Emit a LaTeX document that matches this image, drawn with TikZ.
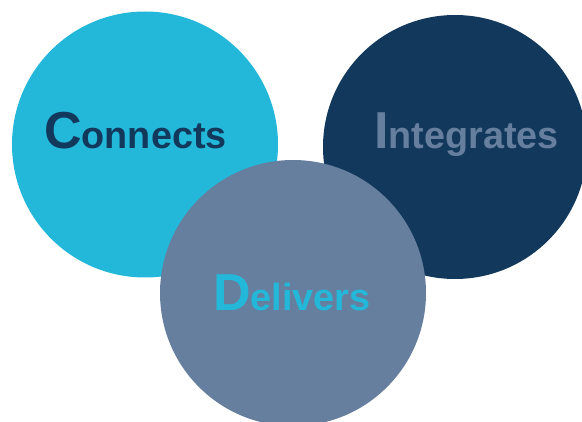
\documentclass[tikz,border=0pt]{standalone}
\usepackage{fontspec}
\setmainfont{Liberation Sans}
\definecolor{cyanc}{HTML}{23B8D9}
\definecolor{navyc}{HTML}{12395C}
\definecolor{grayc}{HTML}{667F9E}
\tikzset{
  disc/.style={circle, inner sep=0pt, minimum size=#1},
  word/.style={anchor=base west, inner sep=0pt, font=\bfseries},
}
\newcommand{\initialcap}[1]{{\fontsize{52}{52}\selectfont #1}}
\newcommand{\restword}[1]{{\fontsize{37.8}{38}\selectfont #1}}
\begin{document}
\begin{tikzpicture}[x=1pt,y=-1pt]
\useasboundingbox (0,0) rectangle (582,422);
\clip (0,0) rectangle (582,422);
\node[disc=266pt, fill=cyanc] (c) at (145,144.5) {};
\node[disc=264pt, fill=navyc] (i) at (455,147) {};
\node[disc=266pt, fill=grayc] (d) at (293,293) {};
\node[word, text=navyc] (tc) at (44,149) {\initialcap{C}\restword{onnects}};
\node[word, text=grayc] (ti) at (374,149) {\initialcap{I}\restword{ntegrates}};
\node[word, text=cyanc] (td) at (213,311) {\initialcap{D}\restword{elivers}};
\end{tikzpicture}
\end{document}
